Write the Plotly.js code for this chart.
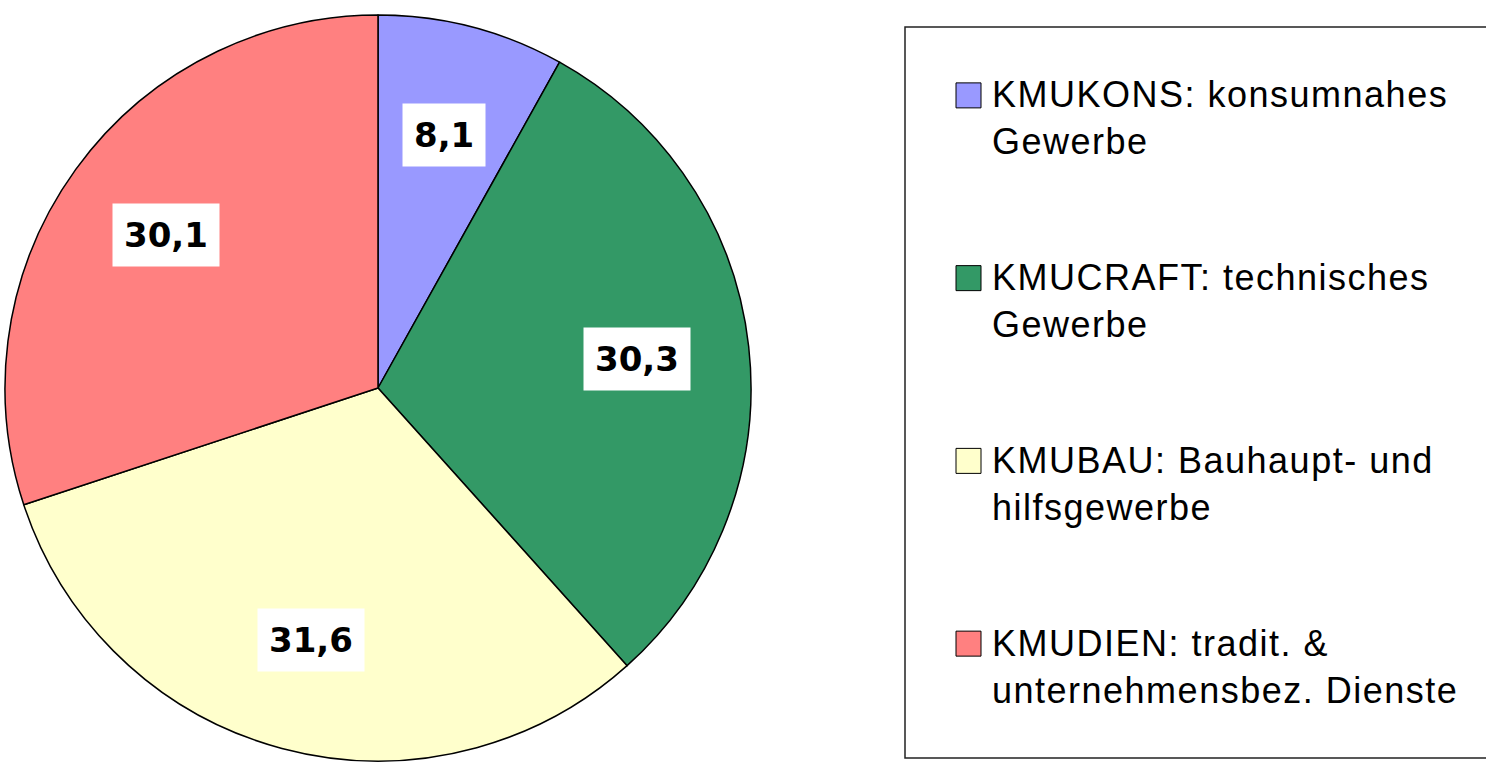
<!DOCTYPE html>
<html><head><meta charset="utf-8">
<script src="https://cdn.plot.ly/plotly-3.0.1.min.js"></script>
<style>
html,body{margin:0;padding:0;background:#fff;overflow:hidden}
#chart{width:1486px;height:765px}
</style></head>
<body><div id="chart"></div>
<script>
// ---- data ----
const categories = [
  'KMUKONS: konsumnahes<br>Gewerbe',
  'KMUCRAFT: technisches<br>Gewerbe',
  'KMUBAU: Bauhaupt- und<br>hilfsgewerbe',
  'KMUDIEN: tradit. &amp;<br>unternehmensbez. Dienste'
];
const values = [8.1, 30.3, 31.6, 30.1];
const colors = ['#9999FF', '#339966', '#FFFFCC', '#FF8080'];

// ---- layout constants ----
const W = 1486, H = 765;
const CX = 378, CY = 388, R = 373;
const LABEL_R = 0.70;
const domX = [(CX - R) / W, (CX + R) / W];
const domY = [(H - CY - R) / H, (H - CY + R) / H];

const total = values.reduce((a, b) => a + b, 0);
const annotations = [];
let cum = 0;
values.forEach((v, i) => {
  const th = (cum + v / 2) / total * 2 * Math.PI;
  cum += v;
  const px = CX + LABEL_R * R * Math.sin(th);
  const py = CY - LABEL_R * R * Math.cos(th);
  annotations.push({
    xref: 'paper', yref: 'paper', x: px / W, y: (H - py) / H,
    xanchor: 'center', yanchor: 'middle', showarrow: false,
    text: v.toFixed(1).replace('.', ','),
    font: {family: 'DejaVu Sans', size: 34, color: '#000', weight: 700},
    bgcolor: '#FFFFFF', borderpad: 11
  });
});

// custom legend (boxed, large swatches)
const LEG_X0 = 905, LEG_Y0 = 27, LEG_Y1 = 758;
const SLOT = (LEG_Y1 - LEG_Y0) / categories.length;
const shapes = [{
  type: 'rect', xref: 'paper', yref: 'paper', layer: 'above',
  x0: LEG_X0 / W, x1: 1.02, y0: (H - LEG_Y1) / H, y1: (H - LEG_Y0) / H,
  line: {color: '#222', width: 1.5}, fillcolor: 'rgba(0,0,0,0)'
}];
categories.forEach((c, i) => {
  const slotMid = LEG_Y0 + SLOT * (i + 0.5);
  const line1 = slotMid - 23;
  shapes.push({
    type: 'rect', xref: 'paper', yref: 'paper', layer: 'above',
    x0: 956 / W, x1: 981 / W, y0: (H - (line1 + 12.5)) / H, y1: (H - (line1 - 12.5)) / H,
    line: {color: '#000', width: 1}, fillcolor: colors[i]
  });
  annotations.push({
    xref: 'paper', yref: 'paper', x: 990 / W, y: (H - slotMid) / H,
    xanchor: 'left', yanchor: 'middle', align: 'left', showarrow: false,
    text: c, font: {family: 'Liberation Sans', size: 36, color: '#000'}
  });
});

const trace = {
  type: 'pie', values: values, labels: categories.map(c => c.replace('<br>', ' ')),
  sort: false, direction: 'clockwise', rotation: 0,
  marker: {colors: colors, line: {color: '#000', width: 1.5}},
  textinfo: 'none', hoverinfo: 'none',
  domain: {x: domX, y: domY}, showlegend: false
};

const layout = {
  width: W, height: H, margin: {l: 0, r: 0, t: 0, b: 0},
  paper_bgcolor: '#fff', plot_bgcolor: '#fff',
  showlegend: false, annotations: annotations, shapes: shapes
};

Plotly.newPlot('chart', [trace], layout, {staticPlot: true, displayModeBar: false}).then(() => {
  const anns = document.querySelectorAll('g.annotation');
  anns.forEach((g, i) => {
    if (i >= values.length) {
      const t = g.querySelector('text');
      if (t) t.style.letterSpacing = '1.5px';
    }
  });
});
</script>
</body></html>
